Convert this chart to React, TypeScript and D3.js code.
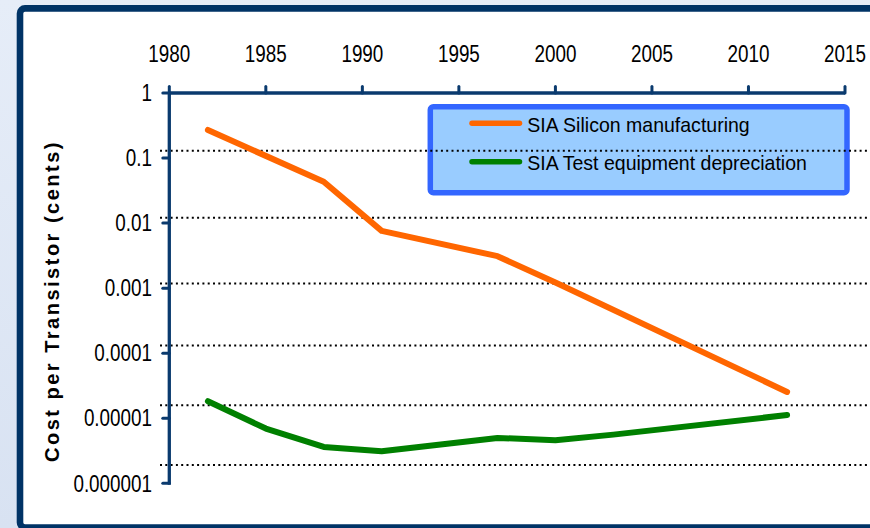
import React from "react";
import * as d3 from "d3";

const xTickYears = [1980, 1985, 1990, 1995, 2000, 2005, 2010, 2015];
const yTickValues = [1, 0.1, 0.01, 0.001, 0.0001, 0.00001, 0.000001];
const yTickLabels = ["1", "0.1", "0.01", "0.001", "0.0001", "0.00001", "0.000001"];
// dotted reference lines (as drawn in the source, slightly off the ticks)
const gridValues = [0.1294, 0.01208, 0.00118, 0.0001318, 0.00001585, 0.000001905];

const siliconYears = [1982, 1988, 1991, 1997, 2000, 2012];
const siliconValues = [0.27, 0.0432, 0.0076, 0.0031, 0.00122, 0.0000254];

const testYears = [1982, 1985, 1988, 1991, 1997, 2000, 2003, 2012];
const testValues = [0.0000183, 0.00000695, 0.00000362, 0.0000031, 0.00000498, 0.00000459, 0.0000056, 0.0000112];

const seriesNames = ["SIA Silicon manufacturing", "SIA Test equipment depreciation"];
const seriesColors = ["#FF6600", "#008000"];

const W = 870;
const H = 528;
const AXIS = "#0a3a6e";
const FONT = "'Liberation Sans', Arial, sans-serif";

export default function App() {
  const x = d3.scaleLinear().domain([1980, 2015]).range([169.3, 845]);
  const y = d3.scaleLog().domain([1, 0.000001]).range([93, 483.3]);

  const line = d3
    .line<[number, number]>()
    .x((d) => x(d[0]))
    .y((d) => y(d[1]));

  const silicon = siliconYears.map((yr, i) => [yr, siliconValues[i]] as [number, number]);
  const test = testYears.map((yr, i) => [yr, testValues[i]] as [number, number]);

  const legendY = [123.3, 161.7];
  const legendBase = [131.7, 170];

  return (
    <svg
      width={W}
      height={H}
      style={{ position: "absolute", left: 0, top: 0 }}
      xmlns="http://www.w3.org/2000/svg"
    >
      <defs>
        <linearGradient id="bg" x1="0" y1="0" x2="0" y2="1">
          <stop offset="0" stopColor="#e6edf8" />
          <stop offset="1" stopColor="#d8e2f2" />
        </linearGradient>
      </defs>
      <rect x={0} y={0} width={W} height={H} fill="url(#bg)" />
      <rect x={20} y={8.4} width={900} height={519.2} rx={5} fill="#ffffff" stroke="#003366" strokeWidth={6.6} />

      {/* legend box */}
      <rect x={430.3} y={106.7} width={416.7} height={86.1} rx={3} fill="#99CCFF" stroke="#3366FF" strokeWidth={5.5} />

      {/* dotted grid */}
      {gridValues.map((v, i) => (
        <line
          key={"g" + i}
          x1={160}
          x2={872}
          y1={y(v)}
          y2={y(v)}
          stroke="#000"
          strokeWidth={2}
          strokeDasharray="2 3.3"
        />
      ))}

      {/* top axis */}
      <line x1={x(1980)} x2={x(2015)} y1={y(1)} y2={y(1)} stroke={AXIS} strokeWidth={3.3} />
      {xTickYears.map((yr) => (
        <line key={"xt" + yr} x1={x(yr)} x2={x(yr)} y1={y(1)} y2={y(1) - 6.5} stroke={AXIS} strokeWidth={3} strokeLinecap="round" />
      ))}
      {xTickYears.map((yr) => (
        <text
          key={"xl" + yr}
          transform={`translate(${x(yr)},61.7) scale(0.82,1)`}
          textAnchor="middle"
          fontFamily={FONT}
          fontSize={23}
          fill="#000"
        >
          {yr}
        </text>
      ))}

      {/* left axis */}
      <line x1={x(1980)} x2={x(1980)} y1={y(1)} y2={y(0.000001) + 1.5} stroke={AXIS} strokeWidth={3.3} />
      {yTickValues.map((v) => (
        <line key={"yt" + v} x1={x(1980) - 6.5} x2={x(1980)} y1={y(v)} y2={y(v)} stroke={AXIS} strokeWidth={3} strokeLinecap="round" />
      ))}
      {yTickValues.map((v, i) => (
        <text
          key={"yl" + v}
          transform={`translate(152,${y(v) + 8.2}) scale(0.82,1)`}
          textAnchor="end"
          fontFamily={FONT}
          fontSize={23}
          fill="#000"
        >
          {yTickLabels[i]}
        </text>
      ))}

      <text
        transform="translate(59,301) rotate(-90)"
        textAnchor="middle"
        fontFamily={FONT}
        fontWeight="bold"
        fontSize={20}
        letterSpacing={2.5}
        fill="#000"
      >
        Cost per Transistor (cents)
      </text>

      {/* series */}
      <path d={line(silicon) || ""} fill="none" stroke={seriesColors[0]} strokeWidth={6} strokeLinecap="round" strokeLinejoin="round" />
      <path d={line(test) || ""} fill="none" stroke={seriesColors[1]} strokeWidth={6} strokeLinecap="round" strokeLinejoin="round" />

      {/* legend entries */}
      {seriesNames.map((name, i) => (
        <g key={"lg" + i}>
          <line x1={472} x2={519.5} y1={legendY[i]} y2={legendY[i]} stroke={seriesColors[i]} strokeWidth={5.5} strokeLinecap="round" />
          <text
            transform={`translate(527.3,${legendBase[i]}) scale(0.93,1)`}
            fontFamily={FONT}
            fontSize={21}
            fill="#000"
          >
            {name}
          </text>
        </g>
      ))}
    </svg>
  );
}
